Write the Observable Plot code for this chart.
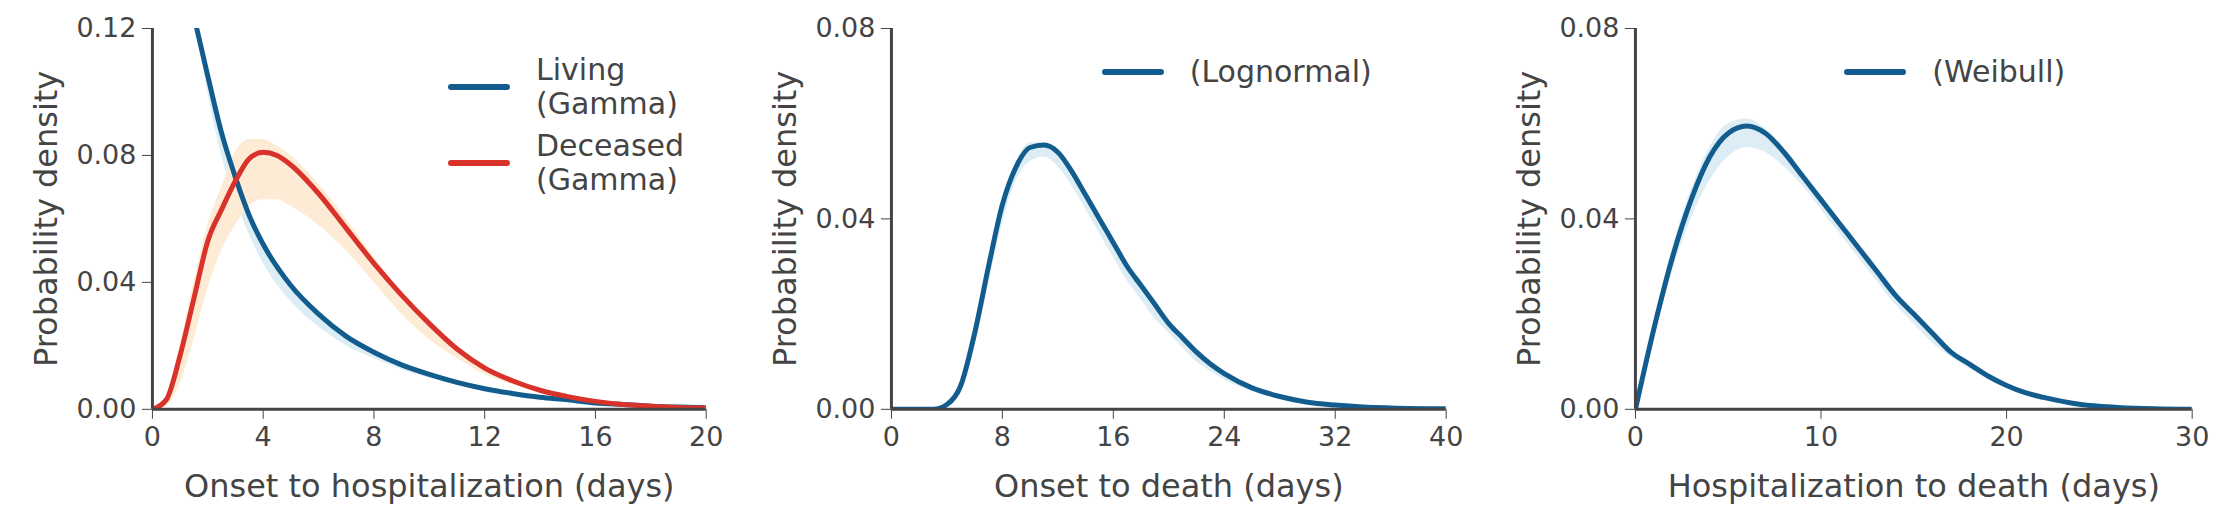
<!DOCTYPE html>
<html><head><meta charset="utf-8">
<script src="https://cdn.jsdelivr.net/npm/d3@7"></script>
<script src="https://cdn.jsdelivr.net/npm/@observablehq/plot@0.6"></script>
<style>
body{margin:0;background:#fff;font-family:"DejaVu Sans",sans-serif;}
#row{display:flex;width:2216px;height:517px;}
.p{position:relative;width:739px;height:517px;}
.lg{position:absolute;font-size:30px;color:#444;line-height:34px;display:flex;align-items:center;}
.lg span.sw{display:inline-block;width:62px;height:6px;border-radius:3px;margin-right:26px;}
</style></head><body>
<div id="row"><div class="p" id="c1"></div><div class="p" id="c2"></div><div class="p" id="c3"></div></div>
<script>
// panel 1: onset to hospitalization
const livX = [1.6,2,2.5,3,3.5,4,5,6,7,8,9,10,11,12,13,14,15,16,17,18,19,20]
const livY = [0.12,0.105,0.087,0.073,0.061,0.052,0.039,0.030,0.023,0.018,0.014,0.011,0.0085,0.0065,0.005,0.0038,0.003,0.002,0.0015,0.001,0.0007,0.0005]
const livLo = [0.12,0.100,0.080,0.066,0.055,0.046,0.034,0.026,0.020,0.016,0.0125,0.0098,0.0076,0.0058,0.0045,0.0034,0.0027,0.0018,0.0013,0.0009,0.0006,0.0004]
const decX = [0,0.5,1,1.5,2,2.5,3,3.5,4,4.5,5,6,7,8,9,10,11,12,13,14,15,16,17,18,19,20]
const decY = [0,0.003,0.017,0.035,0.053,0.063,0.072,0.079,0.081,0.080,0.077,0.068,0.057,0.046,0.036,0.027,0.019,0.013,0.009,0.006,0.004,0.0025,0.0015,0.001,0.0006,0.0004]
const decHi = [0,0.004,0.020,0.040,0.058,0.070,0.081,0.085,0.085,0.083,0.080,0.071,0.060,0.048,0.037,0.028,0.020,0.014,0.0095,0.0065,0.0043,0.0027,0.0016,0.0011,0.0007,0.0005]
const decLo = [0,0.001,0.008,0.022,0.038,0.050,0.058,0.064,0.066,0.066,0.064,0.058,0.050,0.040,0.030,0.022,0.016,0.011,0.0078,0.0052,0.0035,0.0022,0.0013,0.0009,0.0005,0.0003]
// panel 2: onset to death (lognormal)
const lnX = [0,3,4,5,6,7,8,9,10,11,12,13,14,15,16,17,18,19,20,21,22,23,24,26,28,30,32,34,36,40]
const lnY = [0,0,0.001,0.005,0.016,0.030,0.043,0.051,0.055,0.0555,0.054,0.050,0.045,0.040,0.035,0.030,0.026,0.022,0.018,0.015,0.012,0.0095,0.0075,0.0045,0.0027,0.0015,0.0009,0.0005,0.0003,0.0001]
const lnHi = [0,0,0.0012,0.0055,0.017,0.031,0.044,0.052,0.056,0.056,0.0545,0.0505,0.0455,0.0405,0.0355,0.0305,0.0263,0.0222,0.0182,0.0152,0.0122,0.0097,0.0077,0.0046,0.0028,0.0016,0.0009,0.0005,0.0003,0.0001]
const lnLo = [0,0,0.0006,0.004,0.013,0.026,0.039,0.048,0.052,0.053,0.051,0.047,0.042,0.037,0.032,0.027,0.023,0.019,0.016,0.013,0.010,0.008,0.0062,0.0037,0.0022,0.0012,0.0007,0.0004,0.0002,0.0001]
// panel 3: hospitalization to death (weibull)
const wbX = [0,1,2,3,4,5,6,7,8,9,10,11,12,13,14,15,16,17,18,19,20,21,22,24,26,28,30]
const wbY = [0,0.017,0.032,0.044,0.053,0.058,0.0595,0.058,0.054,0.049,0.044,0.039,0.034,0.029,0.024,0.020,0.016,0.012,0.0095,0.007,0.005,0.0035,0.0025,0.001,0.0004,0.0001,0]
const wbHi = [0,0.018,0.034,0.046,0.055,0.060,0.061,0.059,0.055,0.050,0.045,0.040,0.035,0.030,0.025,0.0205,0.0165,0.0125,0.0098,0.0072,0.0052,0.0036,0.0026,0.001,0.0004,0.0001,0]
const wbLo = [0,0.015,0.029,0.040,0.048,0.053,0.055,0.054,0.051,0.047,0.042,0.037,0.032,0.027,0.022,0.018,0.014,0.011,0.0085,0.0063,0.0045,0.0031,0.0022,0.0009,0.0003,0.0001,0]

const blue = "#135d8e", red = "#d8322a", lblue = "#dcedf6", lorange = "#fdebd5", ink = "#444"
const rows = (xs, ys, lo, hi) => xs.map((x, i) => ({x, y: ys[i], lo: lo ? lo[i] : null, hi: hi ? hi[i] : null}))

function panel(id, opts, series) {
  const marks = []
  for (const s of series) {
    marks.push(Plot.areaY(s.data, {x: "x", y1: "lo", y2: "hi", fill: s.band, curve: "monotone-x", clip: true}))
  }
  for (const s of series) {
    marks.push(Plot.line(s.data, {x: "x", y: "y", stroke: s.color, strokeWidth: 5, curve: "monotone-x", clip: true}))
  }
  marks.push(Plot.ruleX([0], {stroke: ink, strokeWidth: 3}))
  marks.push(Plot.ruleY([0], {stroke: ink, strokeWidth: 3}))
  const chart = Plot.plot({
    width: 739, height: 517,
    marginLeft: opts.ml, marginRight: opts.mr, marginTop: 28, marginBottom: 108,
    style: {fontFamily: '"DejaVu Sans",sans-serif', fontSize: "27px", color: ink, background: "#fff"},
    x: {domain: opts.xd, ticks: opts.xt, tickSize: 10, tickPadding: 8, label: opts.xl, labelAnchor: "center", labelOffset: 88},
    y: {domain: opts.yd, ticks: opts.yt, tickSize: 10, tickPadding: 6, tickFormat: ".2f", label: "Probability density", labelAnchor: "center", labelOffset: 118},
    marks
  })
  chart.querySelectorAll("g[aria-label$='axis'] text").forEach(t => t.style.fontSize = "27px")
  chart.querySelectorAll("g[aria-label$='axis'] line").forEach(l => l.setAttribute("stroke-width", 3))
  chart.querySelectorAll("g[aria-label$='axis label'] text, g[aria-label$='axis label']").forEach(t => t.style.fontSize = "32px")
  // drop the direction arrows Plot adds to labels
  chart.querySelectorAll("g[aria-label$='axis label'] text").forEach(t => { t.textContent = t.textContent.replace(/\s*[→↑←↓]\s*/g, "") })
  document.getElementById(id).append(chart)
}

panel("c1", {ml: 152, mr: 33, xd: [0, 20], xt: [0,4,8,12,16,20], yd: [0, 0.12], yt: [0,0.04,0.08,0.12], xl: "Onset to hospitalization (days)"},
  [{data: rows(livX, livY, livLo, livY), color: blue, band: lblue},
   {data: rows(decX, decY, decLo, decHi), color: red, band: lorange}])
panel("c2", {ml: 152, mr: 32, xd: [0, 40], xt: [0,8,16,24,32,40], yd: [0, 0.08], yt: [0,0.04,0.08], xl: "Onset to death (days)"},
  [{data: rows(lnX, lnY, lnLo, lnHi), color: blue, band: lblue}])
panel("c3", {ml: 158, mr: 24, xd: [0, 30], xt: [0,10,20,30], yd: [0, 0.08], yt: [0,0.04,0.08], xl: "Hospitalization to death (days)"},
  [{data: rows(wbX, wbY, wbLo, wbHi), color: blue, band: lblue}])

function legend(id, items, left, top) {
  const host = document.getElementById(id)
  items.forEach((it, i) => {
    const d = document.createElement("div")
    d.className = "lg"
    d.style.left = left + "px"; d.style.top = (top + i * 76) + "px"
    d.innerHTML = `<span class="sw" style="background:${it.c}"></span><span>${it.t}</span>`
    host.append(d)
  })
}
legend("c1", [{c: blue, t: "Living<br>(Gamma)"}, {c: red, t: "Deceased<br>(Gamma)"}], 448, 53)
legend("c2", [{c: blue, t: "(Lognormal)"}], 1102 - 739, 55)
legend("c3", [{c: blue, t: "(Weibull)"}], 1845 - 1478, 55)
</script></body></html>
